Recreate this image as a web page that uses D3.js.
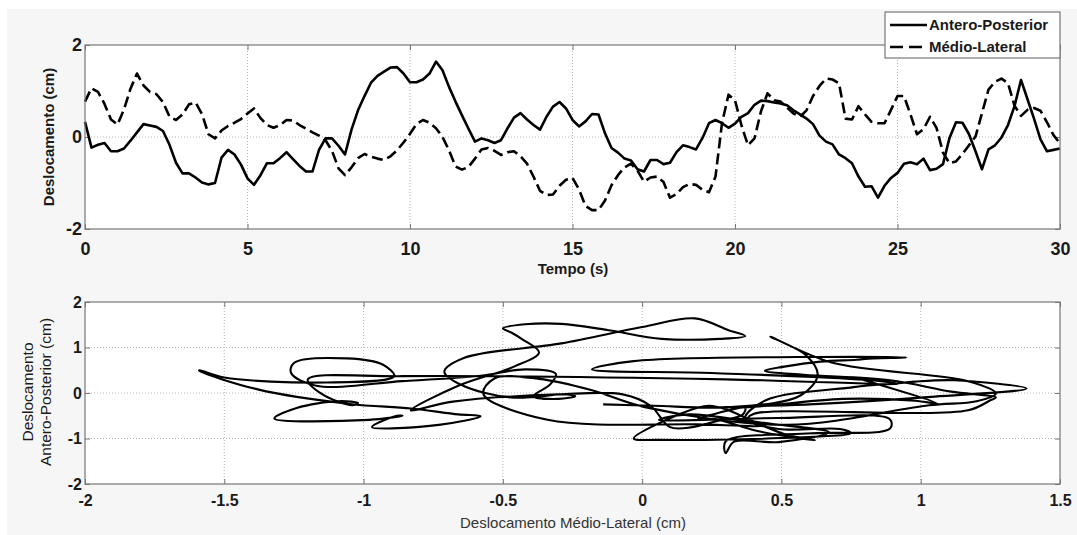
<!DOCTYPE html>
<html><head><meta charset="utf-8">
<script src="https://cdn.jsdelivr.net/npm/d3@7"></script>
<style>body{margin:0;background:#fff}text{font-family:"Liberation Sans",Arial,sans-serif}</style>
</head><body><svg id="c" width="1077" height="535"></svg>
<script>
// sample times (s)
const time = [0,0.2,0.4,0.6,0.8,1,1.2,1.4,1.6,1.8,2,2.2,2.4,2.6,2.8,3,3.2,3.4,3.6,3.8,4,4.2,4.4,4.6,4.8,5,5.2,5.4,5.6,5.8,6,6.2,6.4,6.6,6.8,7,7.2,7.4,7.6,7.8,8,8.2,8.4,8.6,8.8,9,9.2,9.4,9.6,9.8,10,10.2,10.4,10.6,10.8,11,11.2,11.4,11.6,11.8,12,12.2,12.4,12.6,12.8,13,13.2,13.4,13.6,13.8,14,14.2,14.4,14.6,14.8,15,15.2,15.4,15.6,15.8,16,16.2,16.4,16.6,16.8,17,17.2,17.4,17.6,17.8,18,18.2,18.4,18.6,18.8,19,19.2,19.4,19.6,19.8,20,20.2,20.4,20.6,20.8,21,21.2,21.4,21.6,21.8,22,22.2,22.4,22.6,22.8,23,23.2,23.4,23.6,23.8,24,24.2,24.4,24.6,24.8,25,25.2,25.4,25.6,25.8,26,26.2,26.4,26.6,26.8,27,27.2,27.4,27.6,27.8,28,28.2,28.4,28.6,28.8,29,29.2,29.4,29.6,29.8,30];
// Antero-Posterior displacement (cm)
const anteroPosterior = [0.33,-0.23,-0.17,-0.13,-0.31,-0.31,-0.25,-0.08,0.10,0.28,0.25,0.22,0.13,-0.17,-0.56,-0.79,-0.79,-0.88,-0.99,-1.03,-1.0,-0.45,-0.28,-0.38,-0.60,-0.9,-1.04,-0.83,-0.57,-0.57,-0.46,-0.33,-0.48,-0.63,-0.75,-0.75,-0.28,-0.03,-0.03,-0.19,-0.38,0.16,0.58,0.89,1.18,1.33,1.42,1.51,1.52,1.38,1.19,1.19,1.25,1.38,1.64,1.45,1.09,0.77,0.47,0.18,-0.1,-0.03,-0.07,-0.13,-0.07,0.19,0.42,0.52,0.38,0.26,0.16,0.44,0.66,0.76,0.62,0.37,0.23,0.34,0.50,0.49,0.08,-0.24,-0.34,-0.47,-0.51,-0.7,-0.75,-0.5,-0.5,-0.59,-0.56,-0.33,-0.18,-0.22,-0.27,-0.02,0.3,0.37,0.3,0.2,0.29,0.44,0.52,0.70,0.79,0.78,0.75,0.73,0.69,0.58,0.49,0.40,0.28,0.03,-0.1,-0.16,-0.38,-0.46,-0.57,-0.86,-1.08,-1.07,-1.32,-1.06,-0.89,-0.78,-0.58,-0.55,-0.59,-0.47,-0.72,-0.69,-0.59,-0.02,0.32,0.31,0.06,-0.31,-0.7,-0.27,-0.18,-0.01,0.26,0.67,1.24,0.82,0.40,-0.05,-0.31,-0.28,-0.25];
// Medio-Lateral displacement (cm)
const medioLateral = [0.77,1.06,0.98,0.72,0.38,0.27,0.6,1.05,1.38,1.12,0.98,0.93,0.76,0.44,0.37,0.49,0.71,0.75,0.5,0.06,-0.03,0.14,0.24,0.31,0.39,0.51,0.62,0.41,0.26,0.2,0.26,0.37,0.36,0.26,0.18,0.1,0.03,-0.07,-0.3,-0.68,-0.83,-0.66,-0.46,-0.37,-0.43,-0.47,-0.5,-0.42,-0.29,-0.12,0.07,0.28,0.37,0.31,0.19,0.0,-0.29,-0.64,-0.71,-0.65,-0.47,-0.27,-0.24,-0.3,-0.39,-0.33,-0.31,-0.42,-0.58,-0.86,-1.17,-1.26,-1.25,-1.06,-0.93,-0.89,-1.14,-1.5,-1.59,-1.59,-1.38,-1.05,-0.83,-0.66,-0.58,-0.73,-0.97,-0.88,-0.86,-0.98,-1.32,-1.24,-1.09,-1.02,-1.04,-1.15,-1.2,-0.86,0.3,0.92,0.8,0.25,-0.18,-0.03,0.56,0.95,0.8,0.77,0.64,0.51,0.44,0.58,0.89,1.11,1.27,1.25,1.17,0.4,0.38,0.67,0.49,0.33,0.3,0.3,0.59,0.89,0.89,0.49,0.06,0.17,0.44,0.2,-0.34,-0.57,-0.53,-0.37,-0.18,0.01,0.52,1.03,1.2,1.27,1.17,0.68,0.46,0.59,0.63,0.57,0.32,0.04,-0.14];
const topXTicks = [0,5,10,15,20,25,30];
const topYTicks = [-2,0,2];
const botXTicks = [-2,-1.5,-1,-0.5,0,0.5,1,1.5];
const botYTicks = [-2,-1,0,1,2];
const seriesNames = ["Antero-Posterior","Médio-Lateral"];

const svg = d3.select("#c");
svg.append("rect").attr("x",7).attr("y",9).attr("width",1070).attr("height",526).attr("fill","#f6f6f6");

const fmt = d => String(d);
function panel(x, y, xTicks, yTicks, tickFont, xPad, yPad) {
  const L=x.range()[0], R=x.range()[1], B=y.range()[0], T=y.range()[1];
  const g = svg.append("g");
  g.append("rect").attr("x",L).attr("y",T).attr("width",R-L).attr("height",B-T).attr("fill","#fff");
  g.selectAll(".gx").data(xTicks.filter(d=>x(d)>L+1&&x(d)<R-1)).join("line")
    .attr("x1",d=>x(d)).attr("x2",d=>x(d)).attr("y1",T).attr("y2",B)
    .attr("stroke","#b4b4b4").attr("stroke-width",1).attr("stroke-dasharray","1,2");
  g.selectAll(".gy").data(yTicks.filter(d=>y(d)<B-1&&y(d)>T+1)).join("line")
    .attr("y1",d=>y(d)).attr("y2",d=>y(d)).attr("x1",L).attr("x2",R)
    .attr("stroke","#b4b4b4").attr("stroke-width",1).attr("stroke-dasharray","1,2");
  const ax = (sel)=>{ sel.select(".domain").remove(); sel.selectAll("line").attr("stroke","#777"); sel.selectAll("text").attr("fill","#1a1a1a").style("font-size",tickFont+"px").style("font-weight","bold"); };
  g.append("g").attr("transform",`translate(0,${B})`).call(d3.axisBottom(x).tickValues(xTicks).tickFormat(fmt).tickSize(-5).tickPadding(xPad)).call(ax);
  g.append("g").attr("transform",`translate(0,${T})`).call(d3.axisTop(x).tickValues(xTicks).tickFormat("").tickSize(-5)).call(ax);
  g.append("g").attr("transform",`translate(${L},0)`).call(d3.axisLeft(y).tickValues(yTicks).tickFormat(fmt).tickSize(-5).tickPadding(yPad)).call(ax);
  g.append("g").attr("transform",`translate(${R},0)`).call(d3.axisRight(y).tickValues(yTicks).tickFormat("").tickSize(-5)).call(ax);
  g.selectAll("text").attr("font-family","Liberation Sans, Arial, sans-serif");
  return g;
}

// ---- top panel
const x1 = d3.scaleLinear().domain([0,30]).range([85,1060]);
const y1 = d3.scaleLinear().domain([-2,2]).range([229,45]);
const gTop = panel(x1, y1, topXTicks, topYTicks, 18, 13, 3);
const line1 = d3.line().curve(d3.curveLinear);
gTop.append("path").attr("d", line1(time.map((t,i)=>[x1(t), y1(medioLateral[i])])))
  .attr("fill","none").attr("stroke","#000").attr("stroke-width",2.6).attr("stroke-linejoin","round").attr("stroke-dasharray","11,5");
gTop.append("path").attr("d", line1(time.map((t,i)=>[x1(t), y1(anteroPosterior[i])])))
  .attr("fill","none").attr("stroke","#000").attr("stroke-width",2.6).attr("stroke-linejoin","round");
gTop.append("rect").attr("x",85).attr("y",45).attr("width",975).attr("height",184).attr("fill","none").attr("stroke","#777").attr("stroke-width",1.2);

svg.append("text").attr("transform","translate(54,137) rotate(-90)").attr("text-anchor","middle")
  .style("font-size","15px").style("font-weight","bold").attr("fill","#1a1a1a").text("Deslocamento (cm)");
svg.append("text").attr("x",573).attr("y",274).attr("text-anchor","middle")
  .style("font-size","15px").style("font-weight","bold").attr("fill","#1a1a1a").text("Tempo (s)");

// legend
const lg = svg.append("g");
lg.append("rect").attr("x",885).attr("y",12).attr("width",175).attr("height",46).attr("fill","#fff").attr("stroke","#777").attr("stroke-width",1.2);
const legY = [25,47];
seriesNames.forEach((n,i)=>{
  lg.append("line").attr("x1",890).attr("x2",927).attr("y1",legY[i]).attr("y2",legY[i])
    .attr("stroke","#000").attr("stroke-width",2.4).attr("stroke-dasharray", i? "13,6":null);
  lg.append("text").attr("x",929).attr("y",legY[i]+5).style("font-size","15px").style("font-weight","bold").attr("fill","#1a1a1a").text(n);
});

// ---- bottom panel
const x2 = d3.scaleLinear().domain([-2,1.5]).range([85,1060]);
const y2 = d3.scaleLinear().domain([-2,2]).range([484,302]);
const gBot = panel(x2, y2, botXTicks, botYTicks, 16, 11, 3);
gBot.append("path").attr("d", d3.line().curve(d3.curveCatmullRom.alpha(0.5))(time.map((t,i)=>[x2(medioLateral[i]), y2(anteroPosterior[i])])))
  .attr("fill","none").attr("stroke","#000").attr("stroke-width",2.1).attr("stroke-linejoin","round");
gBot.append("rect").attr("x",85).attr("y",302).attr("width",975).attr("height",182).attr("fill","none").attr("stroke","#777").attr("stroke-width",1.2);

svg.append("text").attr("x",573).attr("y",528).attr("text-anchor","middle")
  .style("font-size","15px").attr("fill","#333").text("Deslocamento Médio-Lateral (cm)");
const yl = svg.append("text").attr("transform","translate(0,392) rotate(-90)").attr("text-anchor","middle")
  .style("font-size","15.5px").attr("fill","#1a1a1a");
yl.append("tspan").attr("x",0).attr("y",33).text("Deslocamento");
yl.append("tspan").attr("x",0).attr("y",51).text("Antero-Posterior (cm)");
</script></body></html>
